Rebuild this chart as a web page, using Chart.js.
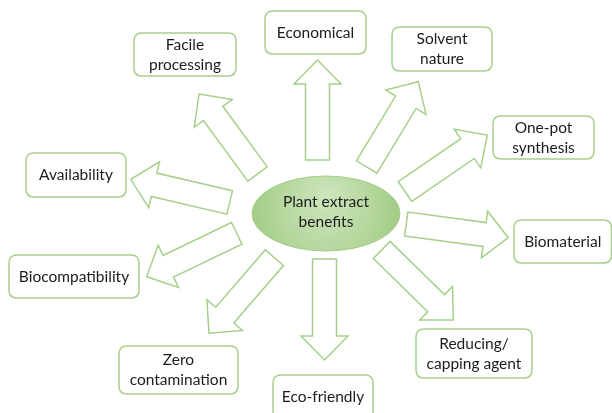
<!DOCTYPE html>
<html>
<head>
<meta charset="utf-8">
<title>Plant extract benefits</title>
<script src="https://cdn.jsdelivr.net/npm/chart.js@4.4.0/dist/chart.umd.min.js"></script>
<style>
  html, body { margin: 0; padding: 0; background: #ffffff; }
  #wrap { width: 612px; height: 413px; }
</style>
</head>
<body>
<div id="wrap"><canvas id="diagram" width="612" height="413"></canvas></div>
<script>
// --- data: the hub and the benefits around it ---
const centerLabel = ['Plant extract', 'benefits'];
const benefits = [
  ['Economical'],
  ['Solvent', 'nature'],
  ['One-pot', 'synthesis'],
  ['Biomaterial'],
  ['Reducing/', 'capping agent'],
  ['Eco-friendly'],
  ['Zero', 'contamination'],
  ['Biocompatibility'],
  ['Availability'],
  ['Facile', 'processing']
];

// --- layout (scale units = pixels of the 612x413 picture) ---
// box: [left, top, right, bottom], arrow: [tailX, tailY, tipX, tipY]
const boxes = [
  [265, 11, 366, 54],
  [392, 27, 492, 71],
  [493, 116, 594, 159],
  [514, 220, 611.5, 263],
  [416, 329, 532, 378],
  [273, 375, 373, 419],
  [119, 346, 238, 394],
  [9, 255, 139, 298],
  [26, 153, 126, 197],
  [134, 33, 236, 76]
];
const arrows = [
  [317.5, 160, 317.5, 60],
  [366.7, 167, 418.3, 81.7],
  [405, 191.5, 487.3, 135],
  [406.3, 224, 508.3, 237.7],
  [381.7, 250, 453.3, 320],
  [324.5, 259, 324.5, 360],
  [274.4, 257.7, 209, 333.3],
  [236.7, 233.3, 146.7, 276.7],
  [229.7, 202.5, 130.7, 179.3],
  [257.5, 174, 199, 94]
];
const hub = { x: 326, y: 213.5, rx: 74, ry: 37.5 };

const GREEN = '#a6d08a';
const TEXT = '#1c1c1c';
const FONT = '15.5px Lato, "Open Sans", sans-serif';
const LINE_H = 20;

function roundRect(ctx, x, y, w, h, r) {
  ctx.beginPath();
  ctx.moveTo(x + r, y);
  ctx.lineTo(x + w - r, y);
  ctx.quadraticCurveTo(x + w, y, x + w, y + r);
  ctx.lineTo(x + w, y + h - r);
  ctx.quadraticCurveTo(x + w, y + h, x + w - r, y + h);
  ctx.lineTo(x + r, y + h);
  ctx.quadraticCurveTo(x, y + h, x, y + h - r);
  ctx.lineTo(x, y + r);
  ctx.quadraticCurveTo(x, y, x + r, y);
  ctx.closePath();
}

function drawLines(ctx, lines, cx, cy) {
  ctx.fillStyle = TEXT;
  ctx.font = FONT;
  ctx.textAlign = 'center';
  ctx.textBaseline = 'middle';
  const start = cy - (lines.length - 1) * LINE_H / 2;
  lines.forEach((t, i) => ctx.fillText(t, cx, start + i * LINE_H));
}

function blockArrow(ctx, tx, ty, px, py) {
  const shaftW = 24, headW = 47, headL = 24;
  const len = Math.hypot(px - tx, py - ty);
  const dx = (px - tx) / len, dy = (py - ty) / len;
  const nx = -dy, ny = dx;
  const bx = px - dx * headL, by = py - dy * headL;
  const pts = [
    [tx + nx * shaftW / 2, ty + ny * shaftW / 2],
    [bx + nx * shaftW / 2, by + ny * shaftW / 2],
    [bx + nx * headW / 2, by + ny * headW / 2],
    [px, py],
    [bx - nx * headW / 2, by - ny * headW / 2],
    [bx - nx * shaftW / 2, by - ny * shaftW / 2],
    [tx - nx * shaftW / 2, ty - ny * shaftW / 2]
  ];
  ctx.beginPath();
  pts.forEach((p, i) => i ? ctx.lineTo(p[0], p[1]) : ctx.moveTo(p[0], p[1]));
  ctx.closePath();
  ctx.fillStyle = '#ffffff';
  ctx.fill();
  ctx.strokeStyle = GREEN;
  ctx.lineWidth = 1.5;
  ctx.lineJoin = 'miter';
  ctx.stroke();
}

// plugin that draws the diagram through the chart's x / y scales
const diagramPlugin = {
  id: 'diagram',
  afterDatasetsDraw(chart) {
    const ctx = chart.ctx;
    const X = v => chart.scales.x.getPixelForValue(v);
    const Y = v => chart.scales.y.getPixelForValue(v);
    ctx.save();

    arrows.forEach(a => blockArrow(ctx, X(a[0]), Y(a[1]), X(a[2]), Y(a[3])));

    benefits.forEach((lines, i) => {
      const b = boxes[i];
      const x0 = X(b[0]), y0 = Y(b[1]), x1 = X(b[2]), y1 = Y(b[3]);
      roundRect(ctx, x0, y0, x1 - x0, y1 - y0, 8);
      ctx.fillStyle = '#ffffff';
      ctx.fill();
      ctx.strokeStyle = GREEN;
      ctx.lineWidth = 1.5;
      ctx.stroke();
      drawLines(ctx, lines, (x0 + x1) / 2, (y0 + y1) / 2);
    });

    // central ellipse
    const cx = X(hub.x), cy = Y(hub.y);
    const rx = X(hub.x + hub.rx) - cx, ry = Math.abs(Y(hub.y + hub.ry) - cy);
    const grad = ctx.createRadialGradient(cx, cy - ry * 0.5, 5, cx, cy, rx);
    grad.addColorStop(0, '#cbe4ba');
    grad.addColorStop(0.6, '#b5d79d');
    grad.addColorStop(1, '#a2cc85');
    ctx.beginPath();
    ctx.ellipse(cx, cy, rx, ry, 0, 0, Math.PI * 2);
    ctx.fillStyle = grad;
    ctx.fill();
    ctx.strokeStyle = '#a3cd87';
    ctx.lineWidth = 1;
    ctx.stroke();
    drawLines(ctx, centerLabel, cx, cy - 1.5);

    ctx.restore();
  }
};

new Chart(document.getElementById('diagram'), {
  type: 'scatter',
  data: {
    datasets: [{
      label: 'benefits',
      data: benefits.map((_, i) => ({ x: (boxes[i][0] + boxes[i][2]) / 2, y: (boxes[i][1] + boxes[i][3]) / 2 })),
      pointRadius: 0
    }]
  },
  options: {
    responsive: false,
    animation: false,
    layout: { padding: 0 },
    plugins: { legend: { display: false }, tooltip: { enabled: false } },
    scales: {
      x: { type: 'linear', min: 0, max: 612, display: false },
      y: { type: 'linear', min: 0, max: 413, reverse: true, display: false }
    }
  },
  plugins: [diagramPlugin]
});
</script>
</body>
</html>
